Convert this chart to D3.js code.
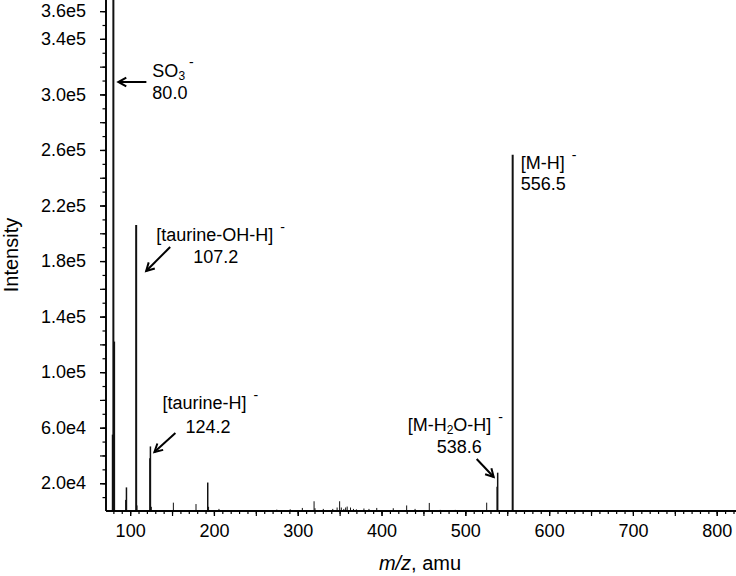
<!DOCTYPE html>
<html>
<head>
<meta charset="utf-8">
<script src="https://cdn.jsdelivr.net/npm/d3@7"></script>
<style>
  body { margin: 0; background: #fff; }
  text { font-family: "Liberation Sans", Arial, sans-serif; fill: #000; }
</style>
</head>
<body>
<svg id="chart" width="736" height="576"></svg>
<script>
// peak list
var mz = [79.0, 80.0, 80.9, 94.6, 95.6, 107.2, 108.2, 123.6, 124.2, 125.3,
          151.6, 178.6, 192.6, 193.6, 206.0, 275.0, 291.0, 305.5, 319.5, 320.6,
          330.5, 341.8, 347.0, 350.0, 352.0, 355.0, 357.2, 359.0, 363.0, 366.5,
          370.0, 379.0, 385.0, 394.3, 414.0, 430.0, 440.0, 457.0, 470.0, 488.0,
          525.5, 538.0, 538.6, 556.5];
var intensity = [55000, 420000, 122000, 8000, 17000, 206000, 4000, 38000, 46500, 3000,
                 6000, 5000, 20500, 3000, 1500, 1000, 1200, 2200, 7000, 2000,
                 1500, 1500, 2500, 7000, 2500, 1500, 2500, 3200, 2500, 1500,
                 1200, 1800, 1500, 2200, 2000, 4000, 1500, 5800, 800, 800,
                 6000, 17500, 27600, 256600];

// tick values
var xLabelTicks = [100, 200, 300, 400, 500, 600, 700, 800];
var yLabelTicks = [20000, 60000, 100000, 140000, 180000, 220000, 260000, 300000, 340000, 360000];

// annotated peaks
var annMz = [80.0, 107.2, 124.2, 538.6, 556.5];
var annValue = ["80.0", "107.2", "124.2", "538.6", "556.5"];

var svg = d3.select("#chart");
var x = d3.scaleLinear().domain([71.2, 823]).range([106, 736]);
var y = d3.scaleLinear().domain([0, 368000]).range([511, 0]).clamp(true);

// peaks
svg.append("g").selectAll("line")
  .data(mz.map(function(m, i) { return [m, intensity[i]]; }))
  .join("line")
  .attr("x1", function(d) { return x(d[0]); })
  .attr("x2", function(d) { return x(d[0]); })
  .attr("y1", y(0))
  .attr("y2", function(d) { return y(d[1]); })
  .attr("stroke", "#111")
  .attr("stroke-width", function(d) { return d[1] > 100000 ? 2 : (d[1] > 15000 ? 1.5 : 1); });

// x axis: minor, half and labelled ticks
var xg = svg.append("g").attr("transform", "translate(0,511)");
xg.append("g").call(d3.axisBottom(x).tickValues(d3.range(80, 821, 10)).tickSize(3).tickFormat(""));
xg.append("g").call(d3.axisBottom(x).tickValues(d3.range(100, 801, 50)).tickSize(5).tickFormat(""));
xg.append("g").call(d3.axisBottom(x).tickValues(xLabelTicks).tickSize(5).tickPadding(8));
xg.selectAll("path.domain").attr("stroke-width", 1.3).attr("d", "M106,0H736");
xg.selectAll("line").attr("stroke-width", 1.2);
xg.selectAll("text").style("font-size", "18px").attr("font-family", null);

// y axis
var yg = svg.append("g").attr("transform", "translate(106,0)");
yg.append("g").call(d3.axisLeft(y).tickValues(d3.range(10000, 368000, 10000)).tickSize(3.5).tickFormat(""));
yg.append("g").call(d3.axisLeft(y).tickValues(d3.range(20000, 368000, 20000)).tickSize(6).tickFormat(""));
yg.append("g").call(d3.axisLeft(y).tickValues(yLabelTicks).tickSize(6).tickPadding(14)
  .tickFormat(function(d) { return d3.format(".1e")(d).replace("+", ""); }));
yg.selectAll("path.domain").attr("stroke-width", 1.3).attr("d", "M0,0V511");
yg.selectAll("line").attr("stroke-width", 1.2);
yg.selectAll("text").style("font-size", "18px").attr("font-family", null);

// axis titles
var xt = svg.append("text").attr("x", 420).attr("y", 570).attr("text-anchor", "middle").style("font-size", "20px");
xt.append("tspan").style("font-style", "italic").text("m/z");
xt.append("tspan").text(", amu");
svg.append("text").attr("transform", "translate(18,255) rotate(-90)")
  .attr("text-anchor", "middle").style("font-size", "20px").text("Intensity");

// arrow with open head at (x2,y2)
function arrow(x1, y1, x2, y2) {
  var a = Math.atan2(y2 - y1, x2 - x1), L = 9, w = 0.5;
  svg.append("line").attr("x1", x1).attr("y1", y1).attr("x2", x2).attr("y2", y2)
    .attr("stroke", "#000").attr("stroke-width", 2);
  svg.append("path")
    .attr("d", "M" + (x2 - L * Math.cos(a - w)) + "," + (y2 - L * Math.sin(a - w)) +
               "L" + x2 + "," + y2 +
               "L" + (x2 - L * Math.cos(a + w)) + "," + (y2 - L * Math.sin(a + w)))
    .attr("fill", "none").attr("stroke", "#000").attr("stroke-width", 2);
}

function label(tx, ty, parts) {
  var t = svg.append("text").attr("x", tx).attr("y", ty).style("font-size", "18px");
  parts.forEach(function(p) {
    var s = t.append("tspan").text(p[0]);
    if (p[1]) s.attr("dy", p[1]);
    if (p[2]) s.style("font-size", p[2]);
    if (p[3]) s.attr("dx", p[3]);
  });
  return t;
}

// SO3-
var p0 = x(annMz[0]);
arrow(p0 + 33, 82, p0 + 5, 82);
label(p0 + 39, 77, [["SO"], ["3", 3, "12px"], ["-", -13, "14px", 4]]);
label(p0 + 39, 99, [[annValue[0]]]);

// [taurine-OH-H]-
var p1 = x(annMz[1]);
arrow(p1 + 34, 247, p1 + 10, 271);
label(p1 + 20, 241, [["[taurine-OH-H]"], ["-", -9, "14px", 7]]);
label(p1 + 57, 263, [[annValue[1]]]);

// [taurine-H]-
var p2 = x(annMz[2]);
arrow(p2 + 25, 433, p2 + 4, 452);
label(p2 + 12, 409, [["[taurine-H]"], ["-", -9, "14px", 7]]);
label(p2 + 35, 433, [[annValue[2]]]);

// [M-H2O-H]-
var p3 = x(annMz[3]);
arrow(p3 - 21, 459, p3 - 4, 477);
label(p3 - 90, 431, [["[M-H"], ["2", 3, "12px"], ["O-H]", -3], ["-", -9, "14px", 7]]);
label(p3 - 61, 453, [[annValue[3]]]);

// [M-H]-
var p4 = x(annMz[4]);
label(p4 + 8, 169, [["[M-H]"], ["-", -9, "14px", 7]]);
label(p4 + 8, 190, [[annValue[4]]]);
</script>
</body>
</html>
